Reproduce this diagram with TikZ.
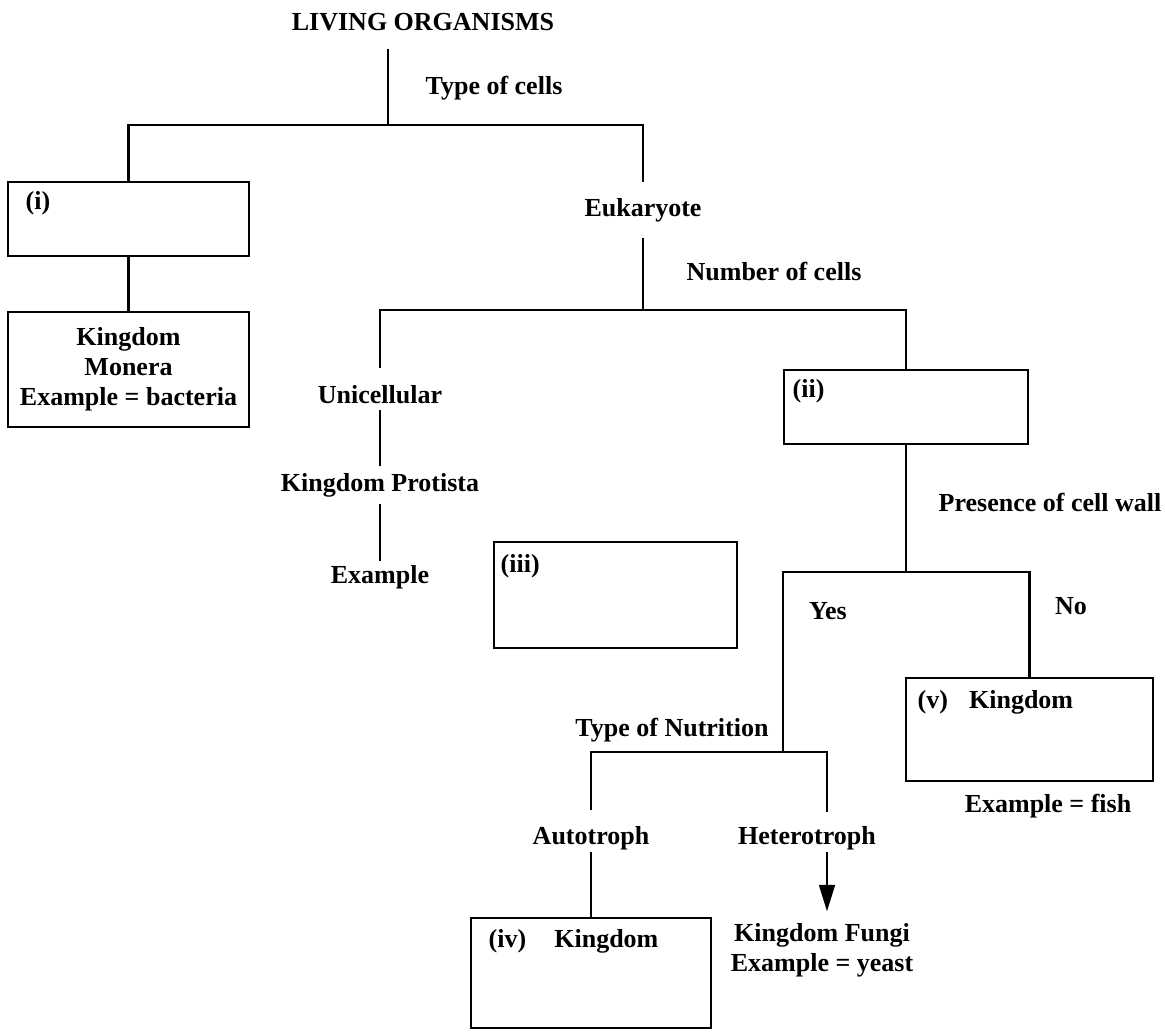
\documentclass[tikz,border=0pt]{standalone}
\usepackage{fontspec}
\setmainfont{Liberation Serif}
\usetikzlibrary{arrows.meta,fit,positioning}

\tikzset{
  lab/.style={inner sep=1pt, align=center, font=\bfseries\fontsize{14.8}{17.2}\selectfont},
  box/.style={draw, line width=1.6pt, inner sep=0pt},
  link/.style={line width=1.3pt},
}

\begin{document}
\begin{tikzpicture}[x=0.02cm,y=-0.02cm]
    \useasboundingbox (0,0) rectangle (1165,1031);

    % boxes
    \node[box, fit={(8,182) (249,256)}] (boxi) {};
    \node[box, fit={(8,312) (249,427)}] (boxmon) {};
    \node[box, fit={(784,370) (1028,444)}] (boxii) {};
    \node[box, fit={(494,542) (737,648)}] (boxiii) {};
    \node[box, fit={(906,678) (1153,781)}] (boxv) {};
    \node[box, fit={(471,918) (711,1028)}] (boxiv) {};

    % labels
    \node[lab] (title) at (423,22) {LIVING ORGANISMS};
    \node[lab] (typecells) at (494,88) {Type of cells};
    \node[lab] (euk) at (643,210) {Eukaryote};
    \node[lab] (numcells) at (774,271) {Number of cells};
    \node[lab] (uni) at (380,395) {Unicellular};
    \node[lab] (protista) at (380,485) {Kingdom Protista};
    \node[lab] (protex) at (380,577) {Example};
    \node[lab] (presence) at (1050,502) {Presence of cell wall};
    \node[lab] (yes) at (828,611) {Yes};
    \node[lab] (no) at (1071,606) {No};
    \node[lab] (nutrition) at (672,730) {Type of Nutrition};
    \node[lab] (auto) at (591,838) {Autotroph};
    \node[lab] (hetero) at (807,838) {Heterotroph};
    \node[lab] (fungi) at (822,950) {Kingdom Fungi\\Example = yeast};
    \node[lab] (fish) at (1048,806) {Example = fish};
    \node[lab] (monera) at (boxmon) {Kingdom\\Monera\\Example = bacteria};

    \node[lab, anchor=west] (li) at ([shift={(17,23)}]boxi.north west) {(i)};
    \node[lab, anchor=west] (lii) at ([shift={(8,23)}]boxii.north west) {(ii)};
    \node[lab, anchor=west] (liii) at ([shift={(6,26)}]boxiii.north west) {(iii)};
    \node[lab, anchor=west] (lv) at ([shift={(11,26)}]boxv.north west) {(v)\hspace{12pt}Kingdom};
    \node[lab, anchor=west] (liv) at ([shift={(17,25)}]boxiv.north west) {(iv)\hspace{16pt}Kingdom};

    % junctions
    \coordinate (j1) at (388,125);
    \coordinate (j2) at (643,310);
    \coordinate (j3) at (906,572);
    \coordinate (j4) at (783,752);
    \coordinate (h1) at (827,812);

    % connectors
    \draw[link] ([yshift=-9pt]title.south -| j1) -- (j1);
    \draw[link] (boxi.north) |- (j1) -| ([yshift=8pt]euk.north);
    \draw[link] (boxi) -- (boxmon);
    \draw[link] ([yshift=-8pt]euk.south) -- (j2);
    \draw[link] ([yshift=9pt]uni.north) |- (j2) -| (boxii.north);
    \draw[link] ([yshift=-2pt]uni.south) -- ([yshift=3pt]protista.north);
    \draw[link] ([yshift=-3pt]protista.south) -- ([yshift=1pt]protex.north);
    \draw[link] (boxii) -- (j3);
    \draw[link] (boxv.north) |- (j3) -| (j4);
    \draw[link] ([yshift=8pt]auto.north) |- (j4) -| (h1);
    \draw[link] (auto) -- (boxiv);
    \draw[link, -{Triangle[width=9pt,length=15pt]}] (hetero.south -| h1) -- ([yshift=5.5pt]fungi.north -| h1);
\end{tikzpicture}
\end{document}
